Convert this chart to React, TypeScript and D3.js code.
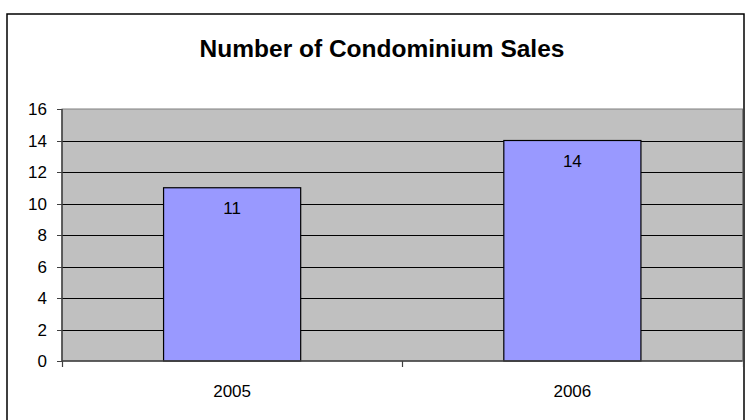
import React from "react";
import * as d3 from "d3";

const categories = ["2005", "2006"];
const sales = [11, 14];
const yTicks = [0, 2, 4, 6, 8, 10, 12, 14, 16];
const title = "Number of Condominium Sales";

export default function App() {
  const W = 745, H = 420;
  const left = 62, right = 742.5, top = 109, bottom = 361;
  const x = d3.scaleBand<string>().domain(categories).range([left, right]).padding(0);
  const y = d3.scaleLinear().domain([0, 16]).range([bottom, top]);
  const barW = x.bandwidth() * 0.403;
  const font = "'Liberation Sans', Arial, sans-serif";
  return (
    <svg width={W} height={H} style={{ position: "absolute", left: 0, top: 0, background: "#fff" }}>
      <rect x={7} y={14} width={737} height={420} fill="#fff" stroke="#000" strokeWidth={1.5} />
      <text x={382} y={57} textAnchor="middle" fontFamily={font} fontWeight="bold" fontSize={24.5}>{title}</text>
      <rect x={left} y={top} width={right - left} height={bottom - top} fill="#C0C0C0" stroke="#808080" strokeWidth={1} />
      {yTicks.filter(t => t > 0 && t < 16).map(t => (
        <line key={"g" + t} x1={left} x2={right} y1={Math.round(y(t)) + 0.5} y2={Math.round(y(t)) + 0.5} stroke="#000" strokeWidth={1} />
      ))}
      {categories.map((c, i) => {
        const cx = (x(c) as number) + x.bandwidth() / 2;
        return (
          <g key={c}>
            <rect x={cx - barW / 2} y={y(sales[i])} width={barW} height={bottom - y(sales[i])} fill="#9999FF" stroke="#000" strokeWidth={1.2} />
            <text x={cx} y={y(sales[i]) + 26} textAnchor="middle" fontFamily={font} fontSize={17}>{sales[i]}</text>
            <text x={cx} y={397} textAnchor="middle" fontFamily={font} fontSize={17}>{c}</text>
          </g>
        );
      })}
      <line x1={left} x2={left} y1={top} y2={bottom} stroke="#404040" strokeWidth={1.5} />
      <line x1={left} x2={right} y1={bottom} y2={bottom} stroke="#404040" strokeWidth={1.5} />
      {yTicks.map(t => (
        <g key={"t" + t}>
          <line x1={57} x2={left} y1={Math.round(y(t)) + 0.5} y2={Math.round(y(t)) + 0.5} stroke="#404040" strokeWidth={1} />
          <text x={47} y={y(t) + 6} textAnchor="end" fontFamily={font} fontSize={17}>{t}</text>
        </g>
      ))}
      {[...categories.map(c => x(c) as number), right].map((v, i) => (
        <line key={"xt" + i} x1={Math.round(v) + 0.5} x2={Math.round(v) + 0.5} y1={bottom} y2={bottom + 6} stroke="#404040" strokeWidth={1.2} />
      ))}
    </svg>
  );
}
